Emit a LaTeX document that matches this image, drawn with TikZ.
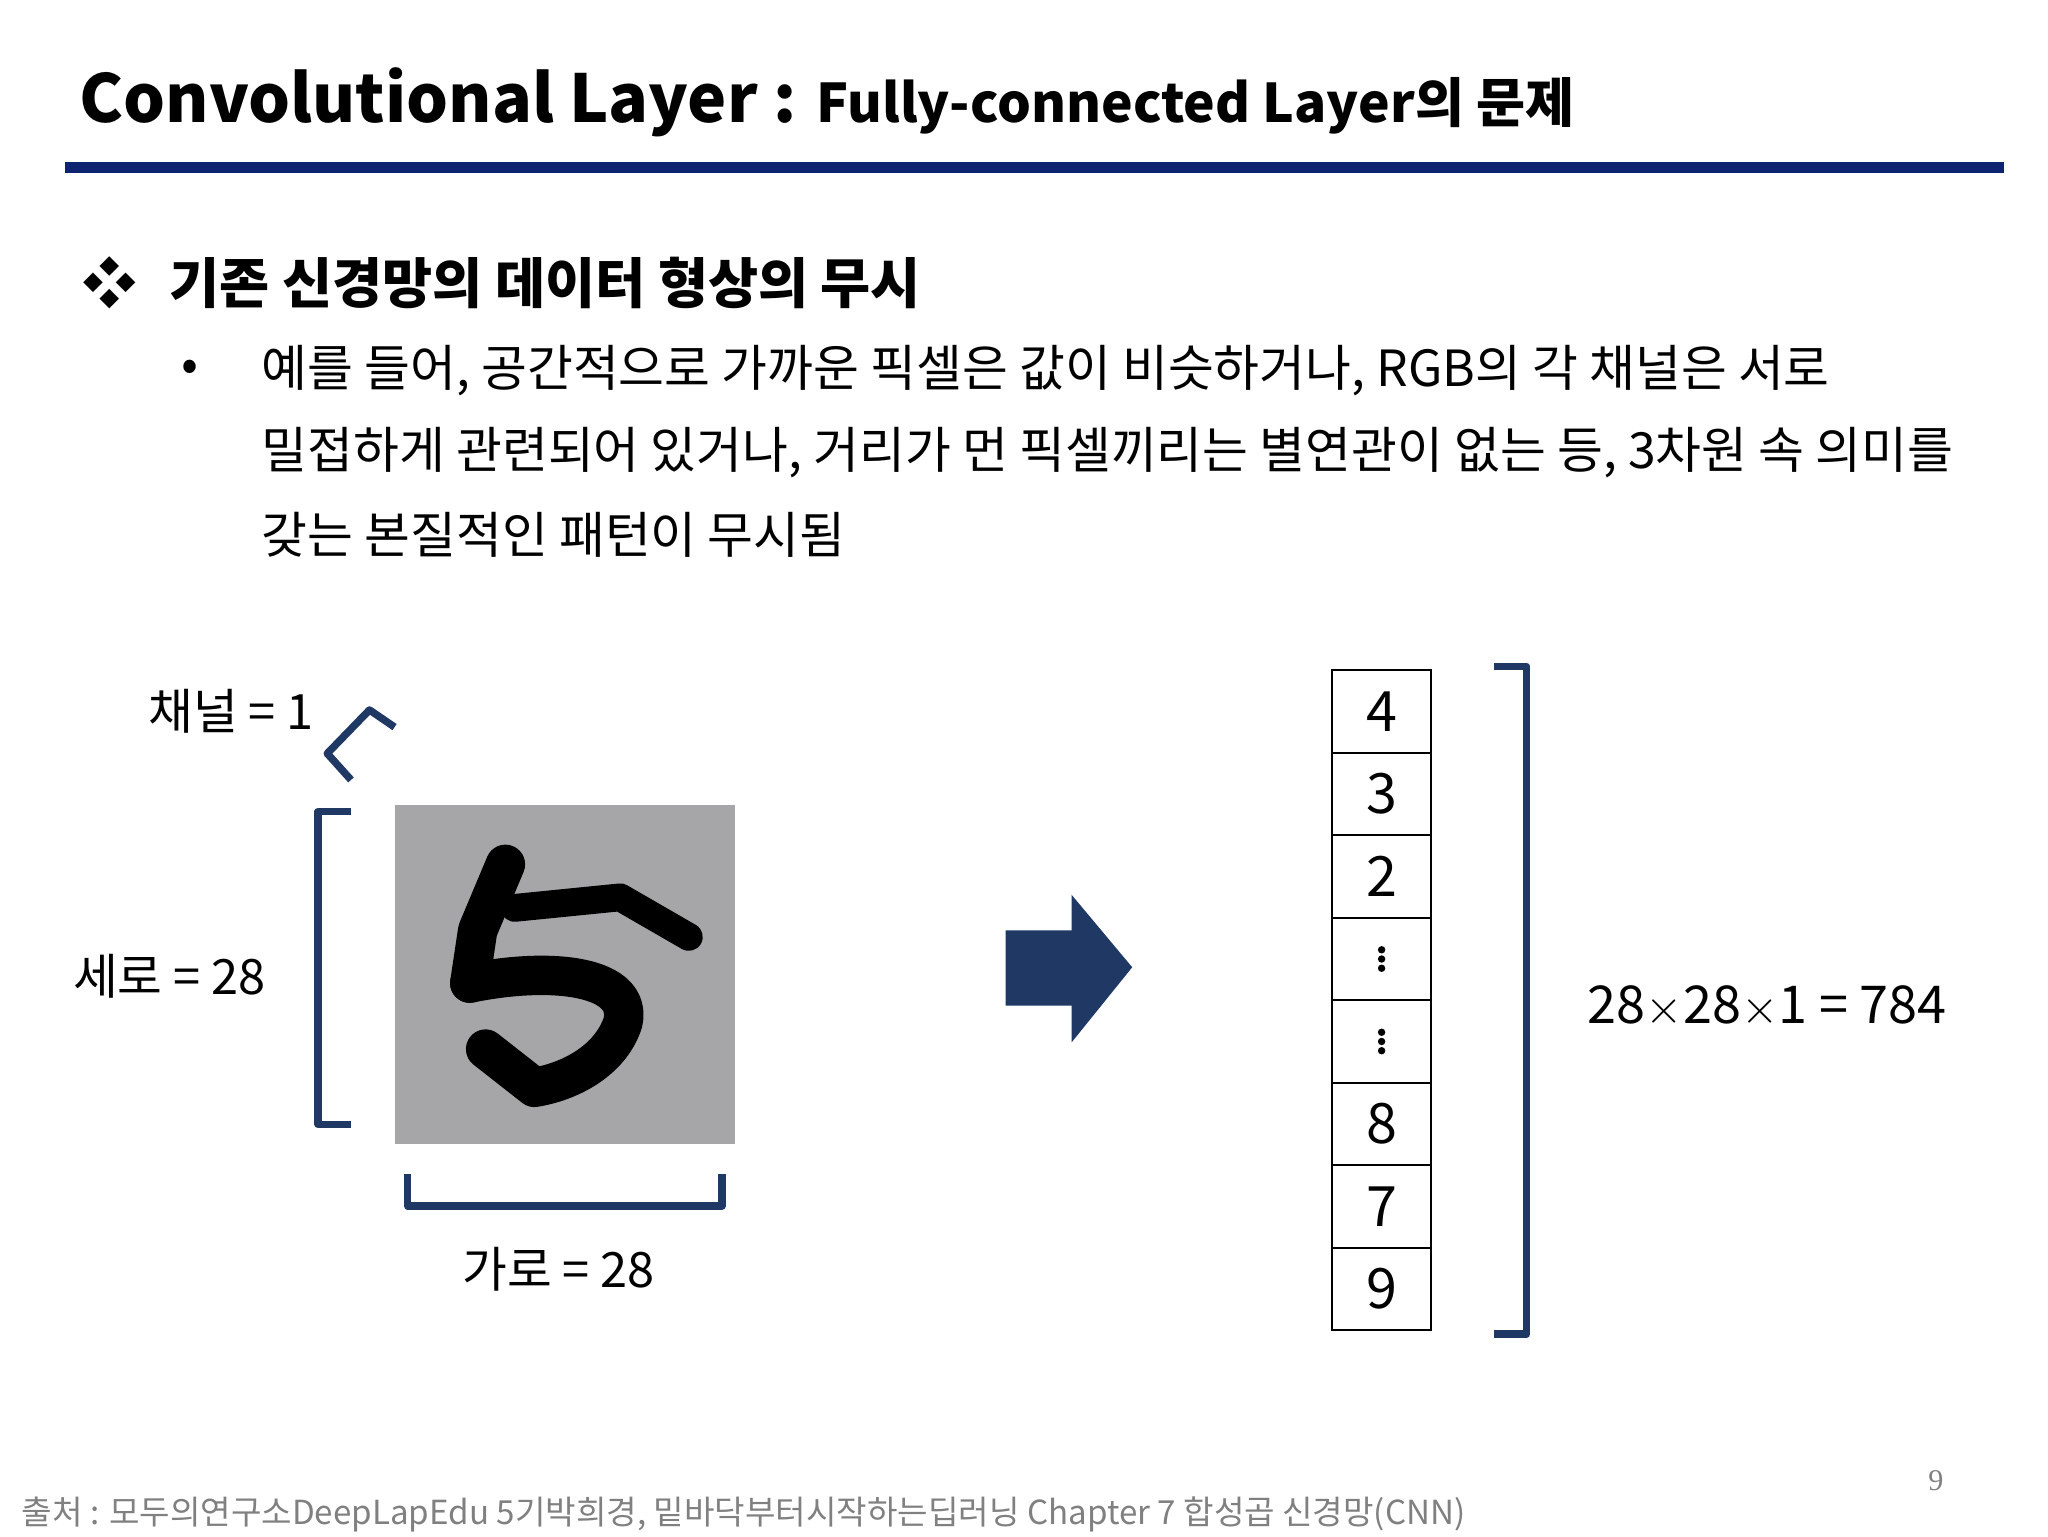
\documentclass[tikz,border=0pt]{standalone}
\usepackage{fontspec}
\setmainfont{Noto Sans CJK KR}
\newfontfamily\serifnum{Liberation Serif}
\definecolor{navy}{HTML}{203864}
\definecolor{titleline}{HTML}{0F2470}
\definecolor{imggray}{HTML}{A6A5A8}
\begin{document}
\begin{tikzpicture}[x=0.02cm,y=-0.02cm,
  brk/.style={draw=navy,line width=3.2pt,line join=round},
  cell/.style={draw=black,line width=0.8pt,minimum width=75*0.02cm,minimum height=62.5*0.02cm,inner sep=0pt,font=\fontsize{24}{24}\selectfont},
  lab/.style={font=\fontsize{21}{24}\selectfont,anchor=west,inner sep=0pt},
  body/.style={font=\fontsize{21.5}{22}\selectfont,anchor=west,inner sep=0pt}]
\useasboundingbox (0,0) rectangle (1552,1164);
\node[lab,anchor=base west,font=\bfseries\fontsize{28.5}{30}\selectfont] (title) at (60,93) {Convolutional Layer : \fontsize{23}{24}\selectfont Fully-connected Layer의 문제};
\fill[titleline] (49,123) rectangle (1519,131);
\node[lab,font=\bfseries\fontsize{23.5}{24}\selectfont] (sec) at (62,214) {❖\hspace{0.6em}기존 신경망의 데이터 형상의 무시};
\node[body] (b) at (137,281) {•};
\node[body] (l1) at (198,281) {예를 들어, 공간적으로 가까운 픽셀은 값이 비슷하거나, RGB의 각 채널은 서로};
\node[body] (l2) at (198,343) {밀접하게 관련되어 있거나, 거리가 먼 픽셀끼리는 별연관이 없는 등, 3차원 속 의미를};
\node[body] (l3) at (198,405) {갖는 본질적인 패턴이 무시됨};
% image
\fill[imggray] (299,610) rectangle (557,867);
\draw[line width=17pt,line cap=round,line join=round] (383,655) -- (362,705) -- (356,745);
\draw[line width=12pt,line cap=round,line join=round] (390,688) -- (470,680) -- (522,710);
\draw[line width=17pt,line cap=round,line join=round] (356,745) .. controls (420,732) and (480,740) .. (472,775) .. controls (462,805) and (430,820) .. (405,824) -- (368,795);
% brackets
\draw[brk] (266,615) -- (241,615) -- (241,852) -- (266,852);
\draw[brk] (309,890) -- (309,914) -- (547,914) -- (547,890);
\draw[brk] (299,551) -- (280,538) -- (248,571) -- (266,591);
\draw[brk] (1132,505) -- (1157,505) -- (1157,1011) -- (1132,1011);
\node[lab] (ch) at (112,539) {채널 = 1};
\node[lab] (se) at (55,740) {세로 = 28};
\node[lab] (ga) at (350,962) {가로 = 28};
\node[lab,font=\fontsize{22.5}{24}\selectfont] (eq) at (1203,763) {28$\times$28$\times$1 = 784};
% arrow
\fill[navy] (762,705) -- (812,705) -- (812,678) -- (858,733) -- (812,790) -- (812,762) -- (762,762) -- cycle;
% column
\foreach \t [count=\i] in {4,3,2,{},{},8,7,9}{
  \node[cell] (c\i) at (1047,{508+62.5*(\i-0.5)}) {\t};
}
\foreach \i in {4,5}{
  \foreach \d in {-7,0,7}{\fill (c\i.center) ++(0,\d) circle (1.6pt);}
}
\node[anchor=base west,inner sep=0pt,font=\fontsize{14.3}{16}\selectfont,text=gray] (src) at (16,1155) {출처 : 모두의연구소DeepLapEdu 5기박희경, 밑바닥부터시작하는딥러닝 Chapter 7 합성곱 신경망(CNN)};
\node[inner sep=0pt,font=\serifnum\fontsize{13}{14}\selectfont,text=gray] (pg) at (1467,1122) {9};
\end{tikzpicture}
\end{document}
